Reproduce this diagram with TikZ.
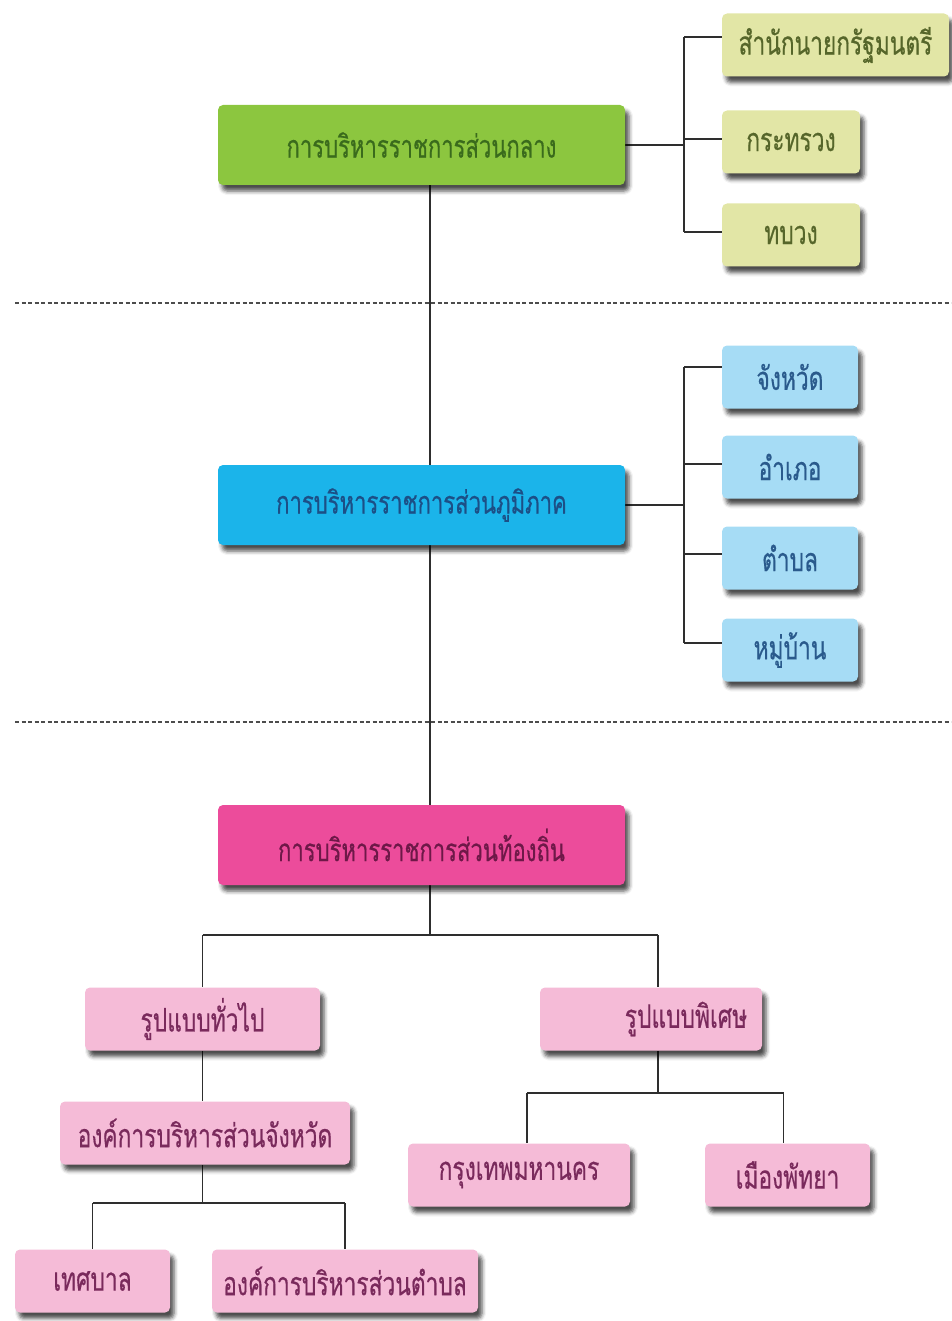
\documentclass[tikz,border=0pt]{standalone}
\usepackage{fontspec}
\newfontfamily\thaifont[Script=Thai,FakeStretch=0.7,FakeBold=0.5]{Loma}
\usetikzlibrary{shadows.blur,backgrounds,calc}

\definecolor{mainGreen}{HTML}{8CC63F}
\definecolor{mainGreenTxt}{HTML}{3A6B1C}
\definecolor{mainBlue}{HTML}{1BB4EA}
\definecolor{mainBlueTxt}{HTML}{1C4F86}
\definecolor{mainPink}{HTML}{EC4C9B}
\definecolor{mainPinkTxt}{HTML}{6E1848}
\definecolor{paleGreen}{HTML}{E2E6A6}
\definecolor{paleGreenTxt}{HTML}{56662A}
\definecolor{paleBlue}{HTML}{A6DCF5}
\definecolor{paleBlueTxt}{HTML}{2A5A8C}
\definecolor{palePink}{HTML}{F5BBD7}
\definecolor{palePinkTxt}{HTML}{7A2A5C}
\definecolor{wire}{HTML}{2E2E2E}

\tikzset{
  card/.style={rounded corners=5pt, inner sep=0pt, font=\thaifont,
    blur shadow={shadow xshift=4pt, shadow yshift=-6pt,
      shadow blur radius=4pt, shadow opacity=70}},
  headbox/.style={card, minimum width=407pt, minimum height=80pt, font=\thaifont\fontsize{31.5}{34}\selectfont},
  smallbox/.style={card, minimum height=63pt, font=\thaifont\fontsize{32.5}{36}\selectfont},
  wireline/.style={draw=wire, line width=1.8pt},
  divider/.style={draw=black!70, line width=1.6pt, dash pattern=on 4pt off 2.5pt},
}

\begin{document}
\begin{tikzpicture}[x=1pt, y=-1pt]
\useasboundingbox (0,0) rectangle (951,1321);

% spine of the chart
\coordinate (spine) at (430,0);

% ---- central administration
\node[headbox, fill=mainGreen, text=mainGreenTxt] (central) at (421.5,145) {การบริหารราชการส่วนกลาง};
\node[smallbox, fill=paleGreen, text=paleGreenTxt, minimum width=227pt] (pm) at (835.5,45) {สำนักนายกรัฐมนตรี};
\node[smallbox, fill=paleGreen, text=paleGreenTxt, minimum width=138pt] (ministry) at (791,142) {กระทรวง};
\node[smallbox, fill=paleGreen, text=paleGreenTxt, minimum width=138pt] (bureau) at (791,235) {ทบวง};

% ---- regional administration
\node[headbox, fill=mainBlue, text=mainBlueTxt] (regional) at (421.5,505) {การบริหารราชการส่วนภูมิภาค};
\node[smallbox, fill=paleBlue, text=paleBlueTxt, minimum width=136pt] (province) at (790,377) {จังหวัด};
\node[smallbox, fill=paleBlue, text=paleBlueTxt, minimum width=136pt] (district) at (790,467) {อำเภอ};
\node[smallbox, fill=paleBlue, text=paleBlueTxt, minimum width=136pt] (subdistrict) at (790,558) {ตำบล};
\node[smallbox, fill=paleBlue, text=paleBlueTxt, minimum width=136pt] (village) at (790,650) {หมู่บ้าน};

% ---- local administration
\node[headbox, fill=mainPink, text=mainPinkTxt] (local) at (421.5,845) {การบริหารราชการส่วนท้องถิ่น};
\node[smallbox, fill=palePink, text=palePinkTxt, minimum width=235pt] (general) at (202.5,1019) {รูปแบบทั่วไป};
\node[smallbox, fill=palePink, text=palePinkTxt, minimum width=222pt] (special) at (651,1019) {\hspace*{70pt}รูปแบบพิเศษ};
\node[smallbox, fill=palePink, text=palePinkTxt, minimum width=290pt] (pao) at (205,1133) {องค์การบริหารส่วนจังหวัด};
\node[smallbox, fill=palePink, text=palePinkTxt, minimum width=155pt] (muni) at (92.5,1281) {เทศบาล};
\node[smallbox, fill=palePink, text=palePinkTxt, minimum width=266pt] (tao) at (345,1281) {องค์การบริหารส่วนตำบล};
\node[smallbox, fill=palePink, text=palePinkTxt, minimum width=222pt] (bkk) at (519,1175) {กรุงเทพมหานคร};
\node[smallbox, fill=palePink, text=palePinkTxt, minimum width=165pt] (pattaya) at (787.5,1175) {เมืองพัทยา};

% junction points of the elbow connectors
\coordinate (cbr) at (684,0);
\coordinate (lsplit) at (0,935);
\coordinate (gsplit) at (0,1203);
\coordinate (ssplit) at (0,1093);
\coordinate (sx) at (658,0);

\begin{scope}[on background layer]
  % section dividers
  \draw[divider] (15,303) -- (951,303);
  \draw[divider] (15,722) -- (951,722);

  % spine
  \draw[wireline] (central.south -| spine) -- (regional.north -| spine);
  \draw[wireline] (regional.south -| spine) -- (local.north -| spine);

  % central branches
  \draw[wireline] (central.east) -- (central.east -| cbr);
  \draw[wireline] ([yshift=8pt]pm.west -| cbr) -- ([yshift=3pt]bureau.west -| cbr);
  \draw[wireline] ([yshift=8pt]pm.west -| cbr) -- ([yshift=8pt]pm.west);
  \draw[wireline] ([yshift=3pt]ministry.west -| cbr) -- ([yshift=3pt]ministry.west);
  \draw[wireline] ([yshift=3pt]bureau.west -| cbr) -- ([yshift=3pt]bureau.west);

  % regional branches
  \draw[wireline] (regional.east) -- (regional.east -| cbr);
  \draw[wireline] ([yshift=10pt]province.west -| cbr) -- ([yshift=7pt]village.west -| cbr);
  \draw[wireline] ([yshift=10pt]province.west -| cbr) -- ([yshift=10pt]province.west);
  \draw[wireline] ([yshift=3pt]district.west -| cbr) -- ([yshift=3pt]district.west);
  \draw[wireline] ([yshift=4pt]subdistrict.west -| cbr) -- ([yshift=4pt]subdistrict.west);
  \draw[wireline] ([yshift=7pt]village.west -| cbr) -- ([yshift=7pt]village.west);

  % local branches
  \draw[wireline] (local.south -| spine) -- (lsplit -| spine);
  \draw[wireline] (lsplit -| general.north) -- (lsplit -| sx);
  \draw[wireline] (lsplit -| general.north) -- (general.north);
  \draw[wireline] (lsplit -| sx) -- (special.north -| sx);

  \draw[wireline] (general.south) -- (pao.north -| general.south);
  \draw[wireline] (pao.south -| general.south) -- (gsplit -| general.south);
  \draw[wireline] (gsplit -| muni.north) -- (gsplit -| tao.north);
  \draw[wireline] (gsplit -| muni.north) -- (muni.north);
  \draw[wireline] (gsplit -| tao.north) -- (tao.north);

  \draw[wireline] (special.south -| sx) -- (ssplit -| sx);
  \draw[wireline] ([xshift=8pt]ssplit -| bkk.north) -- ([xshift=-4pt]ssplit -| pattaya.north);
  \draw[wireline] ([xshift=8pt]ssplit -| bkk.north) -- ([xshift=8pt]bkk.north);
  \draw[wireline] ([xshift=-4pt]ssplit -| pattaya.north) -- ([xshift=-4pt]pattaya.north);
\end{scope}
\end{tikzpicture}
\end{document}
